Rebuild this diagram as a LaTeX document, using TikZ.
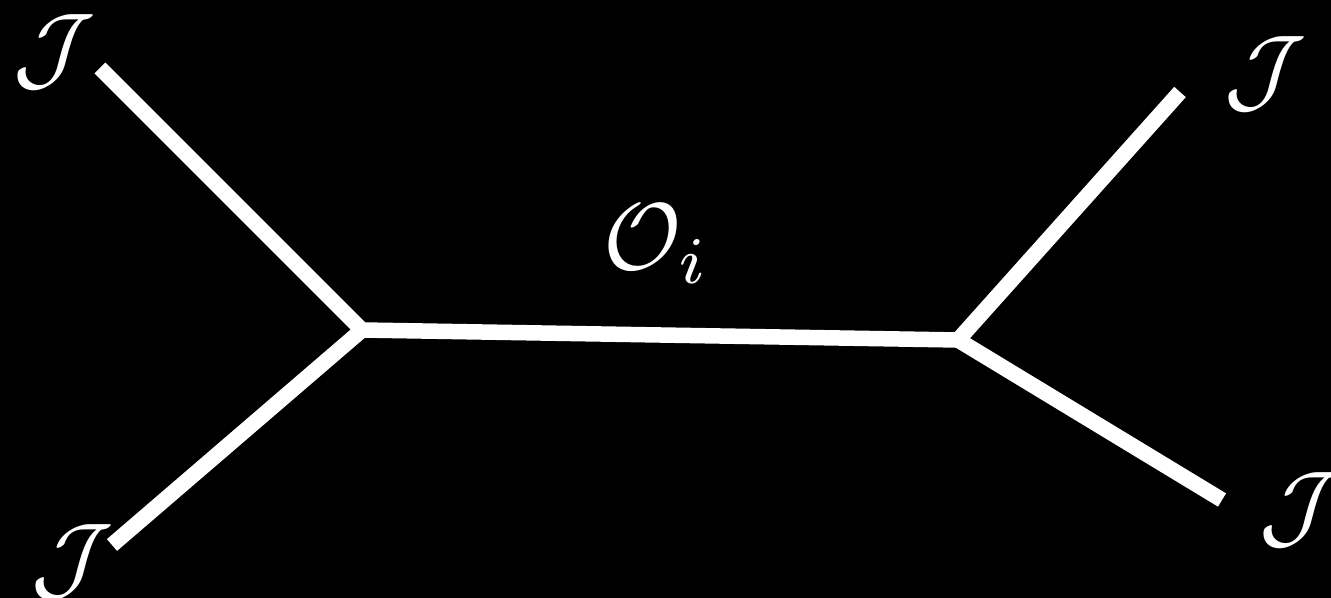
\documentclass[tikz,border=0pt]{standalone}
\usepackage{graphicx}
\usepackage{tikz}

\newcommand{\biglbl}[1]{\scalebox{2.7}{$#1$}}

\begin{document}
\begin{tikzpicture}[
  x=0.01cm, y=-0.01cm,
  leg/.style={white,line width=0.155cm,line join=miter},
  lbl/.style={text=white,inner sep=0pt}
]
  \fill[black] (0,0) rectangle (1331,598);
  \useasboundingbox (0,0) rectangle (1331,598);

  % vertices and outer ends
  \coordinate (vl) at (362,330);
  \coordinate (vr) at (958,340);
  \coordinate (tl) at (100,68);
  \coordinate (bl) at (112,545);
  \coordinate (tr) at (1180,92);
  \coordinate (br) at (1222,500);

  \draw[leg] (tl) -- (vl) -- (bl);
  \draw[leg] (tr) -- (vr) -- (br);
  \draw[leg] (vl) -- (vr);

  % labels
  \node[lbl] (jtl) at (54,52) {\biglbl{\mathcal{J}}};
  \node[lbl] (jbl) at (72,562) {\biglbl{\mathcal{J}}};
  \node[lbl] (jtr) at (1265,74) {\biglbl{\mathcal{J}}};
  \node[lbl] (jbr) at (1300,510) {\biglbl{\mathcal{J}}};
  \node[lbl] (op) at (657,244) {\biglbl{\mathcal{O}_i}};
\end{tikzpicture}
\end{document}
